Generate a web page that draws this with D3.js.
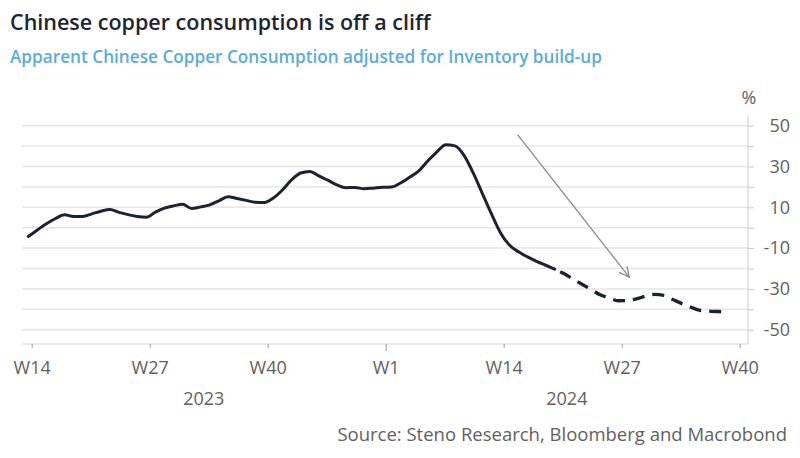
<!DOCTYPE html>
<html><head><meta charset="utf-8">
<script src="https://cdn.jsdelivr.net/npm/d3@7"></script>
<style>
body{margin:0;background:#fff}
svg{display:block}
text{font-family:"Open Sans","Noto Sans",sans-serif}
</style>
</head><body>
<svg id="chart" width="800" height="458"></svg>
<script>
// ---- data ----
const title = "Chinese copper consumption is off a cliff";
const subtitle = "Apparent Chinese Copper Consumption adjusted for Inventory build-up";
const source = "Source: Steno Research, Bloomberg and Macrobond";
const unitLabel = "%";

// week index 0 = 2023 W14, weekly values (%)
const values = [
  -4.3, -1.1, 1.9, 4.5, 6.3, 5.5, 5.5, 6.8, 8.1, 8.9,
  7.5, 6.4, 5.5, 5.1, 7.6, 9.6, 10.7, 11.5, 9.4, 10.2,
  11.2, 13.2, 15.2, 14.3, 13.4, 12.5, 12.4, 14.6, 18.5, 23.4,
  26.8, 27.6, 25.4, 23.3, 21.0, 19.6, 19.7, 19.1, 19.4, 19.8,
  19.9, 21.9, 24.7, 27.7, 32.7, 37.1, 40.7, 40.1, 35.5, 27.0,
  17.0, 7.0, -2.3, -8.5, -11.8, -14.3, -16.5, -18.4, -20.3, -22.5,
  -25.1, -27.7, -30.2, -32.9, -34.4, -35.8, -35.7, -34.9, -33.5, -32.7,
  -33.2, -35.2, -37.2, -39.0, -40.5, -40.9, -41.1, -41.3
];
const forecastStart = 58; // dashed from this index on

const xTickLabels = ["W14", "W27", "W40", "W1", "W14", "W27", "W40"];
const xTickWeeks  = [0, 13, 26, 39, 52, 65, 78];
const yearLabels = ["2023", "2024"];
const yearSpans = [[-0.7, 39.37], [39.37, 79.3]];

const yGridTicks = [50, 40, 30, 20, 10, 0, -10, -20, -30, -40, -50];
const yLabelTicks = [50, 30, 10, -10, -30, -50];

// trend arrow annotation (week index, value)
const arrowFrom = [53.9, 45.6];
const arrowTo = [66.2, -24.2];

// ---- layout ----
const W = 800, H = 458;
const plotLeft = 22, plotRight = 748, plotTop = 115.5, plotBottom = 344;
const tickOffset = 0.37;
const FONT = '"Open Sans","Noto Sans",sans-serif';

const svg = d3.select("#chart");

const x = d3.scaleLinear().domain([0, 78]).range([28.3, 736.3]);
const y = d3.scaleLinear().domain([-57, 55]).range([plotBottom, plotTop]);

// titles
svg.append("text").attr("x", 10).attr("y", 30)
  .attr("font-size", 21.5).attr("font-weight", 600).attr("fill", "#1d2433")
  .text(title);
svg.append("text").attr("x", 10).attr("y", 63)
  .attr("font-size", 17.2).attr("font-weight", 600).attr("fill", "#5aacd8")
  .text(subtitle);

// gridlines
svg.append("g").selectAll("line").data(yGridTicks).join("line")
  .attr("x1", plotLeft).attr("x2", plotRight)
  .attr("y1", d => y(d)).attr("y2", d => y(d))
  .attr("stroke", "#e6e6e6").attr("stroke-width", 1.5);

// right y axis
const yAxis = d3.axisRight(y).tickValues(yGridTicks).tickSize(6)
  .tickFormat(d => yLabelTicks.includes(d) ? d : "");
const gy = svg.append("g").attr("transform", `translate(${plotRight},0)`).call(yAxis);
gy.select(".domain").attr("d", `M0,${plotTop}V${plotBottom}`).attr("stroke", "#d6d6d6").attr("stroke-width", 1.2);
gy.selectAll(".tick line").attr("stroke", "#c8c8c8");
gy.selectAll(".tick text").attr("x", 42).attr("text-anchor", "end")
  .attr("font-size", 18).attr("fill", "#5f5f5f").attr("font-family", FONT);

svg.append("text").attr("x", 749).attr("y", 104).attr("text-anchor", "middle")
  .attr("font-size", 18).attr("fill", "#5f5f5f").text(unitLabel);

// bottom x axis
const xAxis = d3.axisBottom(x).tickValues(xTickWeeks.map(d => d + tickOffset))
  .tickSize(4).tickSizeOuter(0)
  .tickFormat((d, i) => xTickLabels[i]);
const gx = svg.append("g").attr("transform", `translate(0,${plotBottom})`).call(xAxis);
gx.select(".domain").attr("d", `M${plotLeft},0H${plotRight}`).attr("stroke", "#d6d6d6").attr("stroke-width", 1.2);
gx.selectAll(".tick line").attr("stroke", "#9a9a9a")
  .attr("y2", (d, i) => xTickLabels[i] === "W1" ? 7 : 4);
gx.selectAll(".tick text").attr("y", 17).attr("dy", "0.71em")
  .attr("font-size", 18).attr("fill", "#5f5f5f").attr("font-family", FONT);

// year labels
svg.append("g").selectAll("text").data(yearLabels).join("text")
  .attr("x", (d, i) => (x(yearSpans[i][0]) + x(yearSpans[i][1])) / 2)
  .attr("y", 405).attr("text-anchor", "middle")
  .attr("font-size", 18).attr("fill", "#5f5f5f").text(d => d);

// source
svg.append("text").attr("x", 787).attr("y", 441).attr("text-anchor", "end")
  .attr("font-size", 18.5).attr("fill", "#5f5f5f").text(source);

// line
const line = d3.line().x(d => x(d[0])).y(d => y(d[1])).curve(d3.curveMonotoneX);
const pts = values.map((v, i) => [i, v]);
svg.append("path").datum(pts.slice(0, forecastStart + 1)).attr("d", line)
  .attr("fill", "none").attr("stroke", "#1c2233").attr("stroke-width", 3)
  .attr("stroke-linejoin", "round").attr("stroke-linecap", "round");
svg.append("path").datum(pts.slice(forecastStart)).attr("d", line)
  .attr("fill", "none").attr("stroke", "#1c2233").attr("stroke-width", 3.4)
  .attr("stroke-dasharray", "12,8").attr("stroke-dashoffset", 14);

// arrow
const defs = svg.append("defs");
defs.append("marker").attr("id", "arr").attr("viewBox", "0 0 12 12")
  .attr("refX", 11).attr("refY", 6).attr("markerWidth", 12).attr("markerHeight", 12)
  .attr("markerUnits", "userSpaceOnUse").attr("orient", "auto")
  .append("path").attr("d", "M1,1L11,6L1,11").attr("fill", "none")
  .attr("stroke", "#8a8a8a").attr("stroke-width", 1.3);
svg.append("line")
  .attr("x1", x(arrowFrom[0])).attr("y1", y(arrowFrom[1]))
  .attr("x2", x(arrowTo[0])).attr("y2", y(arrowTo[1]))
  .attr("stroke", "#8a8a8a").attr("stroke-width", 1.3)
  .attr("marker-end", "url(#arr)");
</script>
</body></html>
